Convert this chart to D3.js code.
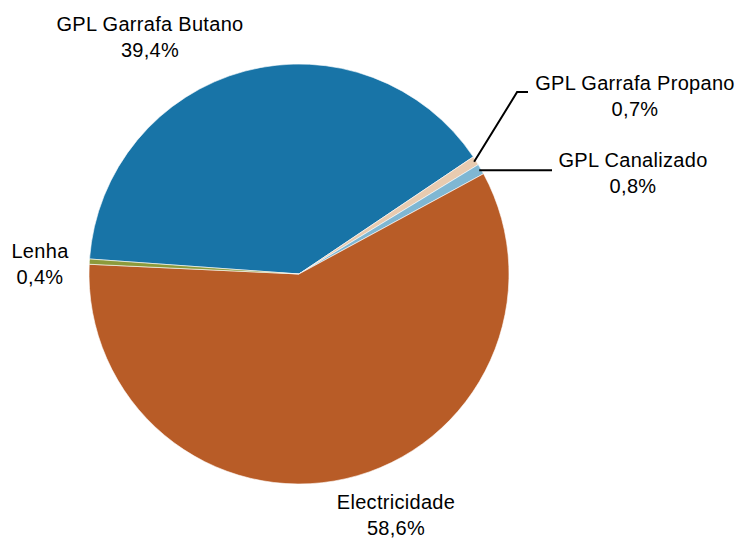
<!DOCTYPE html>
<html>
<head>
<meta charset="utf-8">
<script src="https://cdn.jsdelivr.net/npm/d3@7"></script>
<style>
  body { margin: 0; background: #fff; }
  text { font-family: "Liberation Sans", Arial, sans-serif; font-size: 20px; letter-spacing: 0.3px; fill: #000; }
</style>
</head>
<body>
<div class="chart"></div>
<script>
// data, clockwise from the Butano slice
const categories = ["GPL Garrafa Butano", "GPL Garrafa Propano", "GPL Canalizado", "Electricidade", "Lenha"];
const values = [39.4, 0.7, 0.8, 58.6, 0.4];
const valueLabels = ["39,4%", "0,7%", "0,8%", "58,6%", "0,4%"];
const colors = ["#1874a7", "#e8cbb0", "#7fb7d3", "#b85c27", "#8c9a3b"];

const w = 742, h = 538;
const cx = 299, cy = 274, radius = 210;
const startDeg = -85.9;

// label placement (relative to centre), first line
const labelPos = [
  {x: -149, y: -250},
  {x: 336, y: -191, leader: true},
  {x: 334, y: -114, leader: true},
  {x: 97, y: 228},
  {x: -259, y: -23}
];

var svg = d3.select(".chart").append("svg")
    .attr("width", w)
    .attr("height", h);

var g = svg.append("g").attr("transform", "translate(" + cx + "," + cy + ")");

var pie = d3.pie().sort(null)
    .startAngle(startDeg * Math.PI / 180)
    .endAngle(startDeg * Math.PI / 180 + 2 * Math.PI);

var arc = d3.arc().innerRadius(0).outerRadius(radius);

var arcs = pie(values);

g.selectAll(".slice")
  .data(arcs)
  .enter().append("path")
  .attr("class", "slice")
  .attr("d", arc)
  .attr("fill", (d, i) => colors[i])
  .attr("stroke", "#fff")
  .attr("stroke-width", 0.6);

// leader lines for the small slices
function edgePoint(d, r) {
  var a = (d.startAngle + d.endAngle) / 2;
  return [Math.sin(a) * r, -Math.cos(a) * r];
}

arcs.forEach(function(d, i) {
  var p = labelPos[i];
  if (!p.leader) return;
  var s = edgePoint(d, radius - 2);
  var pts;
  if (i == 1) {
    // goes up then a short horizontal
    pts = [s, [s[0] + 43, p.y + 9], [p.x - 107, p.y + 9]];
  } else {
    pts = [s, [p.x - 81, s[1]]];
  }
  g.append("path")
    .attr("d", d3.line()(pts))
    .attr("fill", "none")
    .attr("stroke", "#000")
    .attr("stroke-width", 2);
});

var labels = g.selectAll(".lbl")
  .data(arcs)
  .enter().append("text")
  .attr("class", "lbl")
  .attr("text-anchor", "middle")
  .attr("transform", (d, i) => "translate(" + labelPos[i].x + "," + labelPos[i].y + ")");

labels.append("tspan").attr("x", 0).attr("dy", "0.35em").text((d, i) => categories[i]);
labels.append("tspan").attr("x", 0).attr("dy", "1.3em").text((d, i) => valueLabels[i]);
</script>
</body>
</html>
